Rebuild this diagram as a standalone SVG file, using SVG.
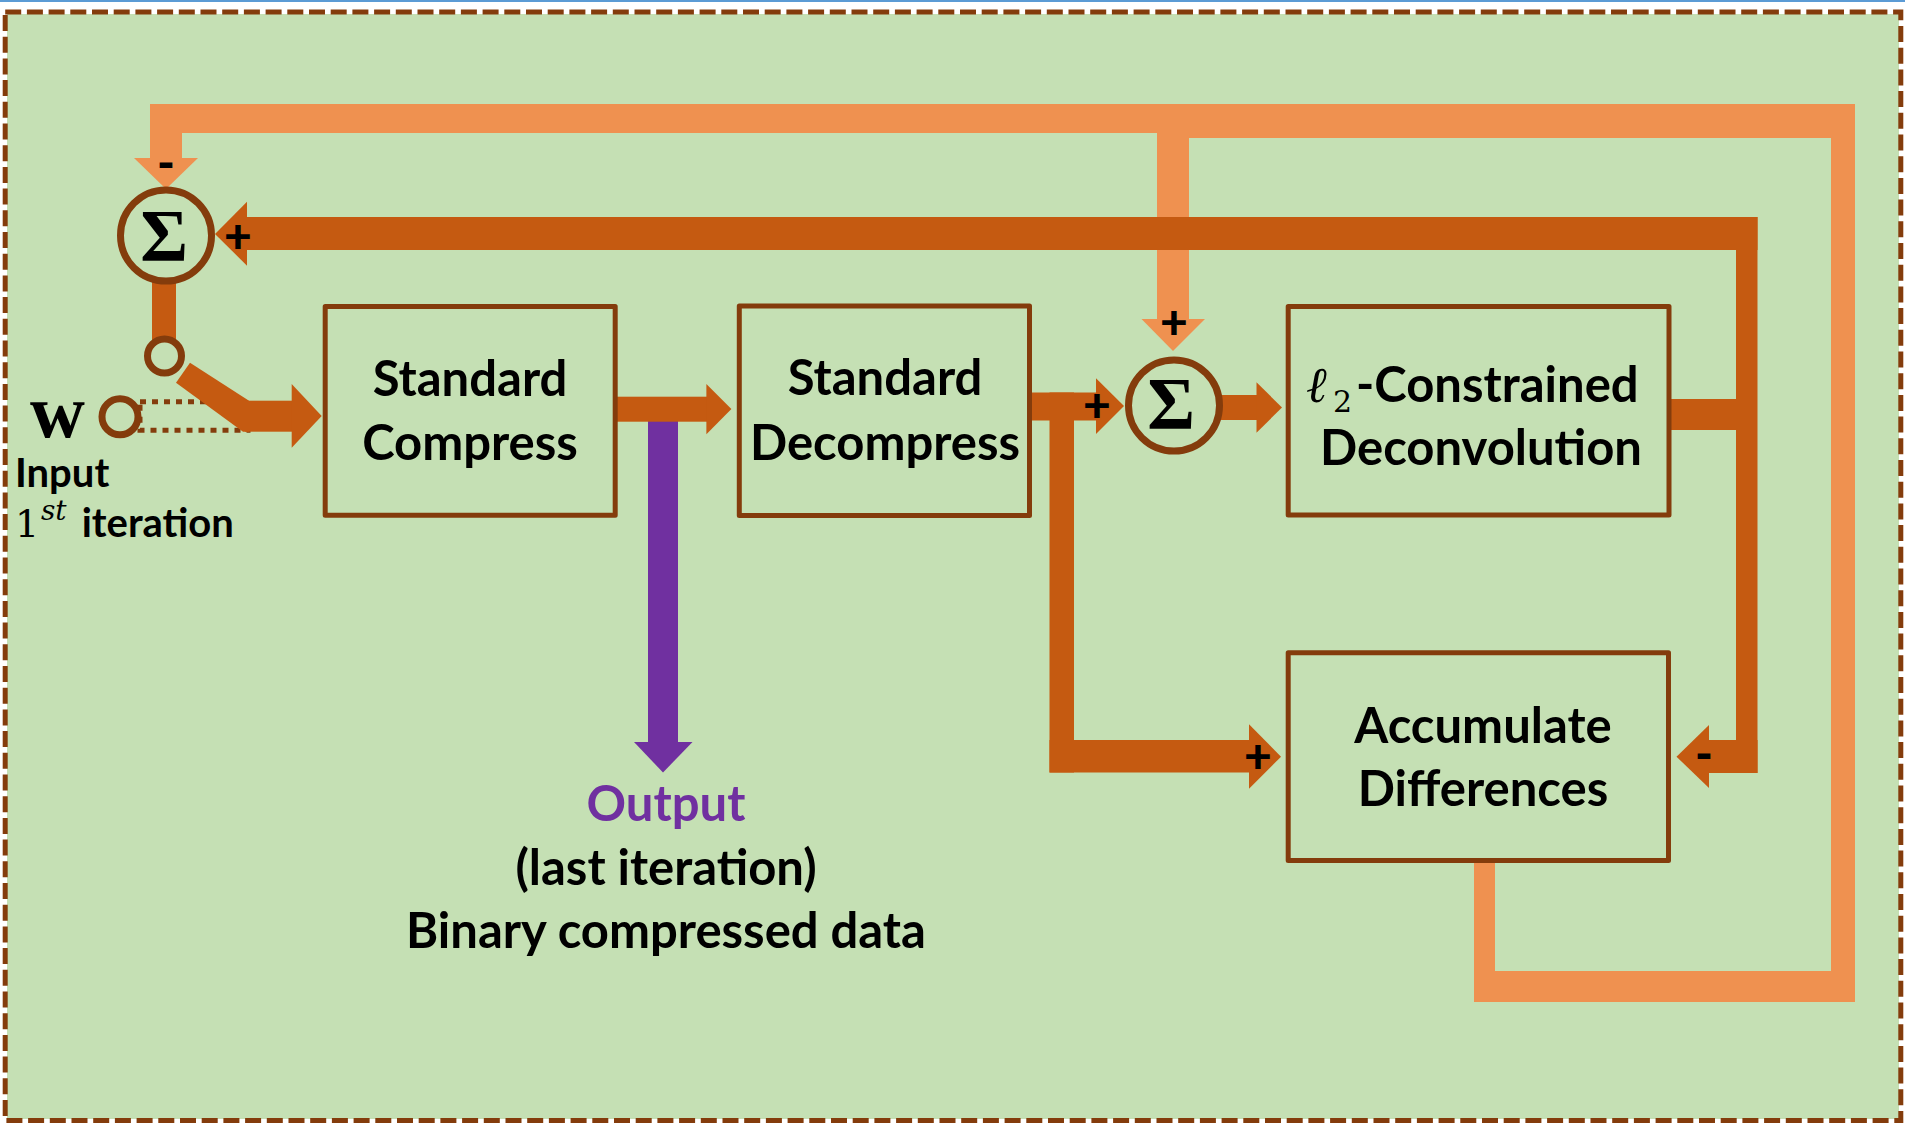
<svg xmlns="http://www.w3.org/2000/svg" width="1905" height="1124" viewBox="0 0 1905 1124">
  <style>
    .box{fill:#c5e0b4;stroke:#843c0c;stroke-width:5;stroke-linejoin:round}
    .sum{fill:#c5e0b4;stroke:#843c0c;stroke-width:7}
    .lbl{font-family:Lato,"Open Sans",sans-serif;font-weight:700;font-size:49px;fill:#000;text-anchor:middle}
    .sml{font-family:Lato,"Open Sans",sans-serif;font-weight:700;font-size:40px;fill:#000}
    .sig{font-family:"Liberation Serif",serif;font-weight:700;font-size:73px;fill:#000;text-anchor:middle}
    .sgn{font-family:Lato,"Open Sans",sans-serif;font-weight:900;font-size:48px;fill:#000;text-anchor:middle}
    .dk{fill:#c55a11}
    .lt{fill:#ef9150}
    .pu{fill:#7030a0}
    .math{font-family:"DejaVu Serif","Liberation Serif",serif;fill:#000}
  </style>

  <!-- page background and dashed frame -->
  <rect x="0" y="0" width="1905" height="1124" fill="#ffffff"/>
  <rect x="0" y="0" width="1905" height="2" fill="#5b9bd5"/>
  <rect x="7" y="14" width="1892" height="1105" fill="#c5e0b4"/>
  <rect x="5.2" y="12" width="1895.6" height="1108.5" fill="none" stroke="#843c0c" stroke-width="5" stroke-dasharray="16 5.7"/>

  <g id="connectors">
    <!-- output branch (purple) -->
    <rect class="pu" x="648" y="420" width="30" height="324"/>
    <polygon class="pu" points="634,742 692.5,742 663,772.5"/>

    <!-- light feedback loop: accumulated differences back to both summers -->
    <rect class="lt" x="150" y="104" width="1023" height="29"/>
    <rect class="lt" x="1157" y="104" width="698" height="34"/>
    <rect class="lt" x="150" y="104" width="32" height="56"/>
    <polygon class="lt" points="134,158 198,158 166,189"/>
    <rect class="lt" x="1157" y="104" width="32" height="217"/>
    <polygon class="lt" points="1141.5,319 1205,319 1173,351"/>
    <rect class="lt" x="1831" y="104" width="24" height="898"/>
    <rect class="lt" x="1474" y="971" width="381" height="31"/>
    <rect class="lt" x="1474" y="860" width="21" height="142"/>

    <!-- dark loop: deconvolution result back to first summer and to accumulator -->
    <rect class="dk" x="245" y="217" width="1512.5" height="33"/>
    <polygon class="dk" points="247,201.7 247,265.7 215,234"/>
    <rect class="dk" x="1736" y="217" width="21.5" height="556"/>
    <rect class="dk" x="1669" y="399" width="70" height="31"/>
    <rect class="dk" x="1706" y="740" width="51.5" height="33"/>
    <polygon class="dk" points="1709,725 1709,788 1676.5,756.7"/>

    <!-- input dotted path and switch -->
    <rect x="140" y="401.7" width="108" height="28.5" fill="none" stroke="#843c0c" stroke-width="5" stroke-dasharray="6 6"/>
    <rect class="dk" x="152" y="270" width="24" height="70"/>
    <polygon class="dk" points="190,362.7 249,400.7 249,431.7 243,431.7 176,382.7"/>
    <rect class="dk" x="245" y="400.7" width="47" height="31"/>
    <polygon class="dk" points="291.7,384 291.7,447.7 321.7,416"/>

    <!-- forward path -->
    <rect class="dk" x="615" y="396.7" width="92" height="25"/>
    <polygon class="dk" points="706.4,384 706.4,434.3 731.4,409"/>
    <rect class="dk" x="1030" y="392.5" width="67" height="28"/>
    <polygon class="dk" points="1096,378.3 1096,434 1124,406"/>
    <rect class="dk" x="1049.5" y="392.5" width="24.5" height="380"/>
    <rect class="dk" x="1049.5" y="740" width="200" height="32.5"/>
    <polygon class="dk" points="1249,724.3 1249,788.7 1281,756.7"/>
    <rect class="dk" x="1215" y="395" width="42" height="25"/>
    <polygon class="dk" points="1256.5,382.3 1256.5,432.7 1282,407.5"/>
  </g>

  <g id="sum1">
    <circle class="sum" cx="166" cy="235.5" r="45.5"/>
    <text class="sig" x="164" y="261">Σ</text>
  </g>
  <g id="sum2">
    <circle class="sum" cx="1174" cy="405.5" r="45.5"/>
    <text class="sig" x="1171" y="429">Σ</text>
  </g>
  <g id="switch">
    <circle class="sum" cx="164.5" cy="356" r="17"/>
  </g>
  <g id="input">
    <circle class="sum" cx="120" cy="416.7" r="18"/>
    <text x="30" y="436.7" font-family="Liberation Serif, serif" font-size="76" font-weight="700">w</text>
    <text class="sml" x="15" y="486.7">Input</text>
    <text class="math" x="15" y="536.7" font-size="38">1</text>
    <text class="math" x="41" y="520" font-size="28" font-style="italic">st</text>
    <text class="sml" x="81.7" y="536.7">iteration</text>
  </g>

  <g id="compress">
    <rect class="box" x="325.2" y="306.5" width="290" height="208.7"/>
    <text class="lbl" x="470" y="396">Standard</text>
    <text class="lbl" x="470" y="460">Compress</text>
  </g>
  <g id="decompress">
    <rect class="box" x="739.3" y="306" width="290.2" height="209.5"/>
    <text class="lbl" x="885" y="395">Standard</text>
    <text class="lbl" x="885" y="460">Decompress</text>
  </g>
  <g id="deconvolution">
    <rect class="box" x="1288.2" y="306.5" width="380.8" height="208.5"/>
    <text class="math" x="1306" y="402" font-size="50" font-style="italic">ℓ</text>
    <text class="math" x="1333" y="412" font-size="30">2</text>
    <text class="lbl" x="1356" y="402" style="text-anchor:start">-Constrained</text>
    <text class="lbl" x="1481" y="465">Deconvolution</text>
  </g>
  <g id="accumulate">
    <rect class="box" x="1288.2" y="652.8" width="380.3" height="207.7"/>
    <text class="lbl" x="1483" y="743">Accumulate</text>
    <text class="lbl" x="1483" y="806">Differences</text>
  </g>
  <g id="output">
    <text class="lbl" x="666" y="821" style="fill:#7030a0">Output</text>
    <text class="lbl" x="666" y="885">(last iteration)</text>
    <text class="lbl" x="666" y="948">Binary compressed data</text>
  </g>

  <g id="signs">
    <text class="sgn" x="166" y="180">-</text>
    <text class="sgn" x="238" y="253">+</text>
    <text class="sgn" x="1174" y="339">+</text>
    <text class="sgn" x="1097" y="422">+</text>
    <text class="sgn" x="1258" y="773">+</text>
    <text class="sgn" x="1704" y="771">-</text>
  </g>
</svg>
